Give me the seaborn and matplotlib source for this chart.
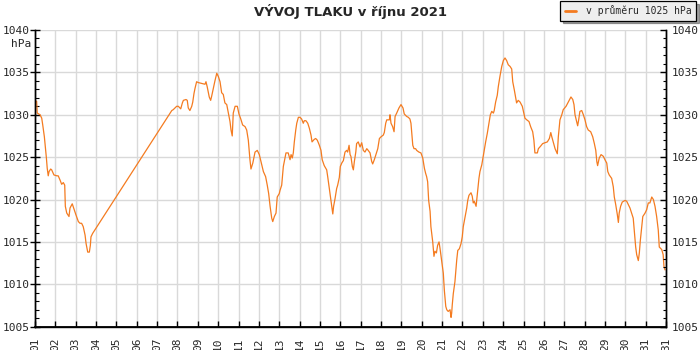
import numpy as np
import pandas as pd
import matplotlib
matplotlib.use("Agg")
import matplotlib.pyplot as plt
from matplotlib.ticker import MultipleLocator
import seaborn as sns

sns.set_theme(style='white')
plt.rcParams['font.family'] = ['DejaVu Sans Mono', 'DejaVu Sans']

# day of October (fractional) and pressure in hPa
day = [
    1.00, 1.08, 1.11, 1.25, 1.33, 1.38, 1.46, 1.51, 1.56, 1.60, 1.65, 1.69, 1.77, 1.82, 1.93,
    2.07, 2.14, 2.23, 2.31, 2.39, 2.46, 2.49, 2.56, 2.67, 2.72, 2.83, 2.90,
    3.01, 3.13, 3.21, 3.29, 3.37, 3.46, 3.51, 3.59, 3.67, 3.72, 3.75, 3.83,
    7.72, 7.79, 7.96, 8.04, 8.16, 8.24, 8.29, 8.42, 8.48, 8.53, 8.61, 8.70, 8.75, 8.81, 8.86, 8.94,
    9.02, 9.19, 9.35, 9.40, 9.46, 9.56, 9.63, 9.68, 9.76, 9.84, 9.93,
    10.01, 10.09, 10.17, 10.25, 10.33, 10.42, 10.50, 10.58, 10.63, 10.69, 10.74, 10.83, 10.94,
    11.02, 11.11, 11.20, 11.32, 11.40, 11.48, 11.56, 11.61, 11.70, 11.81, 11.92,
    12.02, 12.14, 12.22, 12.33, 12.41, 12.48, 12.55, 12.63, 12.68, 12.76, 12.84, 12.90,
    13.00, 13.04, 13.12, 13.20, 13.25, 13.33, 13.44, 13.53, 13.58, 13.64, 13.69, 13.74, 13.81, 13.86, 13.94,
    14.02, 14.10, 14.18, 14.23, 14.31, 14.40, 14.48, 14.56, 14.61, 14.72, 14.79, 14.87, 14.97,
    15.05, 15.11, 15.21, 15.33, 15.38, 15.46, 15.51, 15.58, 15.63, 15.67, 15.74, 15.82, 15.87, 15.95,
    16.00, 16.07, 16.15, 16.23, 16.31, 16.36, 16.43, 16.48, 16.52, 16.59, 16.64, 16.69, 16.76, 16.80, 16.88, 16.97,
    17.05, 17.13, 17.21, 17.30, 17.37, 17.46, 17.54, 17.59, 17.67, 17.75, 17.84, 17.92,
    18.00, 18.11, 18.16, 18.23, 18.28, 18.41, 18.44, 18.49, 18.57, 18.64, 18.69, 18.77, 18.88, 18.98,
    19.08, 19.14, 19.26, 19.34, 19.42, 19.47, 19.51, 19.56, 19.62, 19.70, 19.75, 19.86, 19.96,
    20.05, 20.13, 20.19, 20.24, 20.29, 20.34, 20.41, 20.45, 20.54, 20.60, 20.65, 20.72, 20.78, 20.85, 20.90, 20.98,
    21.06, 21.11, 21.18, 21.23, 21.30, 21.39, 21.44, 21.47, 21.50, 21.55, 21.63, 21.72, 21.77, 21.85, 21.93, 21.99,
    22.04, 22.13, 22.21, 22.26, 22.32, 22.42, 22.48, 22.53, 22.58, 22.67, 22.70, 22.75, 22.81, 22.86, 22.95,
    23.02, 23.07, 23.14, 23.22, 23.30, 23.37, 23.44, 23.52, 23.56, 23.63, 23.71, 23.76, 23.84, 23.93,
    24.01, 24.09, 24.17, 24.25, 24.34, 24.42, 24.47, 24.55, 24.66, 24.74, 24.83, 24.94,
    25.07, 25.16, 25.27, 25.35, 25.45, 25.51, 25.56, 25.68, 25.73, 25.84, 25.94,
    26.06, 26.17, 26.27, 26.34, 26.39, 26.46, 26.55, 26.66, 26.71, 26.79, 26.88, 26.95,
    27.09, 27.20, 27.33, 27.42, 27.48, 27.53, 27.61, 27.66, 27.71, 27.77, 27.86, 27.94,
    28.02, 28.10, 28.18, 28.30, 28.40, 28.48, 28.55, 28.60, 28.64, 28.72, 28.81, 28.92,
    29.00, 29.09, 29.14, 29.21, 29.33, 29.41, 29.46, 29.53, 29.61, 29.66, 29.70, 29.77, 29.85, 29.99,
    30.07, 30.15, 30.23, 30.31, 30.39, 30.44, 30.51, 30.56, 30.64, 30.69, 30.74, 30.81, 30.86, 30.97,
    31.05, 31.13, 31.21, 31.30, 31.38, 31.46, 31.54, 31.62, 31.67, 31.79, 31.86, 31.90, 31.95,
]
pressure = [
    1031.6, 1031.6, 1030.2, 1030.0, 1029.6, 1028.8, 1027.4, 1026.2, 1024.9, 1023.7, 1022.8, 1023.3, 1023.6, 1023.5, 1022.9,
    1022.8, 1022.8, 1022.3, 1021.8, 1022.0, 1021.7, 1019.2, 1018.4, 1018.0, 1019.0, 1019.5, 1019.0,
    1018.2, 1017.4, 1017.2, 1017.2, 1016.8, 1015.8, 1014.8, 1013.8, 1013.8, 1014.6, 1015.6, 1016.0,
    1030.5, 1030.6, 1031.0, 1031.0, 1030.7, 1031.4, 1031.7, 1031.8, 1031.7, 1030.8, 1030.5, 1031.0, 1031.5, 1032.5, 1033.1, 1033.9,
    1033.8, 1033.7, 1033.6, 1033.9, 1033.3, 1032.1, 1031.7, 1032.2, 1033.1, 1034.0, 1034.9,
    1034.5, 1033.9, 1032.6, 1032.4, 1031.4, 1031.2, 1030.2, 1029.2, 1028.2, 1027.5, 1030.2, 1031.0, 1031.0,
    1030.1, 1029.5, 1028.8, 1028.6, 1028.2, 1027.0, 1024.7, 1023.6, 1024.3, 1025.6, 1025.8,
    1025.3, 1024.1, 1023.3, 1022.7, 1021.7, 1020.7, 1019.2, 1017.8, 1017.4, 1018.0, 1018.4, 1020.3,
    1020.7, 1021.1, 1021.7, 1023.9, 1024.5, 1025.5, 1025.5, 1024.7, 1025.3, 1024.9, 1025.5, 1026.8, 1028.2, 1029.0, 1029.7,
    1029.7, 1029.5, 1029.0, 1029.3, 1029.3, 1029.0, 1028.4, 1027.6, 1026.8, 1027.1, 1027.2, 1027.0, 1026.4,
    1025.8, 1024.7, 1024.0, 1023.5, 1022.7, 1021.3, 1020.4, 1019.2, 1018.3, 1019.2, 1020.1, 1021.3, 1021.7, 1022.6,
    1023.9, 1024.3, 1024.6, 1025.6, 1025.8, 1025.6, 1026.4, 1025.3, 1025.1, 1023.9, 1023.5, 1024.5, 1025.6, 1026.6, 1026.8, 1026.2,
    1026.7, 1025.8, 1025.6, 1026.0, 1025.8, 1025.5, 1024.5, 1024.2, 1024.7, 1025.3, 1026.0, 1027.2,
    1027.4, 1027.6, 1027.9, 1029.0, 1029.4, 1029.4, 1030.0, 1029.0, 1028.6, 1028.0, 1029.8, 1030.2, 1030.8, 1031.2,
    1030.8, 1030.1, 1029.8, 1029.7, 1029.5, 1029.0, 1027.8, 1026.4, 1026.0, 1026.0, 1025.8, 1025.6, 1025.5,
    1024.9, 1023.7, 1023.1, 1022.7, 1022.1, 1019.9, 1018.6, 1016.8, 1015.0, 1013.3, 1013.9, 1013.7, 1014.6, 1015.0, 1014.2, 1012.7,
    1011.3, 1009.3, 1007.4, 1007.0, 1006.8, 1007.0, 1006.1, 1006.6, 1007.6, 1008.9, 1010.3, 1012.9, 1014.0, 1014.2, 1014.8, 1015.6,
    1016.8, 1018.0, 1019.0, 1019.9, 1020.5, 1020.8, 1020.4, 1019.6, 1019.8, 1019.2, 1019.9, 1021.1, 1022.5, 1023.3, 1024.1,
    1025.1, 1025.8, 1026.8, 1027.8, 1029.0, 1030.0, 1030.4, 1030.2, 1030.5, 1031.5, 1032.3, 1033.3, 1034.5, 1035.7,
    1036.4, 1036.7, 1036.4, 1035.9, 1035.7, 1035.4, 1033.9, 1032.9, 1031.4, 1031.7, 1031.5, 1031.0,
    1029.6, 1029.4, 1029.2, 1028.6, 1028.0, 1027.0, 1025.5, 1025.5, 1026.0, 1026.3, 1026.6,
    1026.7, 1026.8, 1027.2, 1027.9, 1027.4, 1026.8, 1026.0, 1025.4, 1027.4, 1029.4, 1030.0, 1030.6,
    1031.0, 1031.5, 1032.1, 1031.8, 1031.2, 1030.0, 1029.2, 1028.7, 1029.4, 1030.4, 1030.5, 1030.0,
    1029.4, 1028.6, 1028.2, 1028.0, 1027.4, 1026.6, 1025.8, 1024.5, 1024.0, 1024.9, 1025.3, 1025.1,
    1024.7, 1024.3, 1023.3, 1022.9, 1022.5, 1021.5, 1020.3, 1019.4, 1018.2, 1017.3, 1018.4, 1019.2, 1019.7, 1019.9,
    1019.8, 1019.4, 1019.0, 1018.4, 1017.8, 1016.4, 1014.4, 1013.5, 1012.8, 1013.7, 1015.2, 1016.8, 1018.0, 1018.4,
    1018.8, 1019.6, 1019.6, 1020.3, 1020.0, 1019.2, 1018.0, 1016.4, 1014.4, 1014.1, 1013.5, 1012.1, 1011.7,
]

tick_days = list(range(1, 33))
tick_labels = [f"{d:02d}" for d in range(1, 32)] + ["31"]
title = "VÝVOJ TLAKU v říjnu 2021"
legend_label = "v průměru 1025 hPa"

df = pd.DataFrame({'day': day, 'hPa': pressure})

fig = plt.figure(figsize=(7, 3.5), dpi=100)
ax = fig.add_axes([35/700, 1 - 326.7/350, 631/700, 296.7/350])

line_color = '#f47b20'
sns.lineplot(data=df, x='day', y='hPa', color=line_color, lw=0.9,
             estimator=None, sort=False, label=legend_label, ax=ax)

ax.set_xlim(1, 32)
ax.set_ylim(1005, 1040)
ax.set_xlabel('')
ax.set_ylabel('')

ax.set_xticks(tick_days)
ax.set_xticklabels(tick_labels, rotation=90, fontsize=8)
ax.yaxis.set_major_locator(MultipleLocator(5))
ax.yaxis.set_minor_locator(MultipleLocator(1))
ax.tick_params(axis='y', which='major', direction='inout', length=7, width=1,
               color='black', labelsize=8, pad=0.5, left=True)
ax.tick_params(axis='y', which='minor', direction='in', length=3, width=0.8,
               color='black', left=True)
ax.tick_params(axis='x', which='major', direction='in', length=4.5, width=1,
               color='black', pad=7.5, bottom=True)

# right hand axis with the same scale
ax2 = ax.twinx()
ax2.set_ylim(1005, 1040)
ax2.yaxis.set_major_locator(MultipleLocator(5))
ax2.yaxis.set_minor_locator(MultipleLocator(1))
ax2.tick_params(axis='y', which='major', direction='in', length=4.5, width=1,
                color='black', labelsize=8, pad=4, right=True)
ax2.tick_params(axis='y', which='minor', direction='in', length=2.5, width=0.8,
                color='black', right=True)
ax2.grid(False)

ax.grid(True, which='major', color='#d9d9d9', lw=1.0)
for a in (ax, ax2):
    a.spines['top'].set_visible(False)
    for s in ('left', 'right', 'bottom'):
        a.spines[s].set_color('black')
        a.spines[s].set_linewidth(1.0)
ax.spines['bottom'].set_linewidth(1.3)

ax.get_legend().remove()
leg = fig.legend(loc='upper right', bbox_to_anchor=(697/700, 1.0), frameon=True,
                 fancybox=False, shadow=True, facecolor='#eeeeee', edgecolor='black',
                 framealpha=1, fontsize=7, handlelength=1.2, handletextpad=1.0,
                 borderpad=0.45, borderaxespad=0.1)
for h in leg.get_lines():
    h.set_linewidth(2)
leg.get_frame().set_linewidth(0.9)

fig.text(0.5, 1 - 11.5/350, title, ha='center', va='center', fontsize=9.5,
         fontweight='bold', family='DejaVu Sans')
fig.text(31/700, 1 - 44/350, 'hPa', ha='right', va='center', fontsize=8)

fig.savefig('out.png', dpi=100)
